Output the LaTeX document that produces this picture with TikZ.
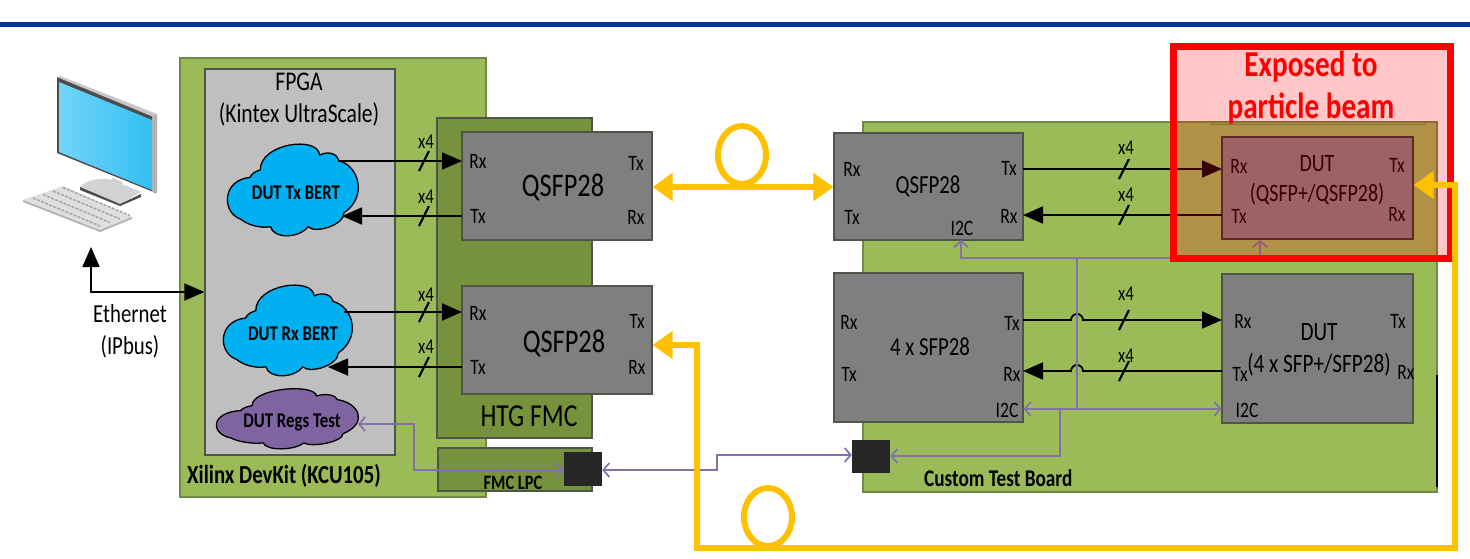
\documentclass[tikz,border=0pt]{standalone}
\usepackage{fontspec}
\setmainfont[FakeStretch=0.8]{Carlito}
\usetikzlibrary{arrows.meta,calc}
\definecolor{bar}{HTML}{0033A0}
\definecolor{board}{HTML}{9BBB59}
\definecolor{boardline}{HTML}{6F8A45}
\definecolor{fmc}{HTML}{76923C}
\definecolor{mod}{HTML}{7F7F7F}
\definecolor{modline}{HTML}{4F5548}
\definecolor{fpga}{HTML}{BFBFBF}
\definecolor{sky}{HTML}{00B0F0}
\definecolor{regs}{HTML}{8064A2}
\definecolor{i2c}{HTML}{8470A8}
\definecolor{fibre}{HTML}{FFC000}
\newcommand{\fsz}[1]{\fontsize{#1}{#1}\selectfont}
% x, y, width, height, fill
\newcommand{\bertcloud}[5]{%
  \begin{scope}[shift={(#1,#2)},x=#3pt/100,y=-#4pt/100]
    \draw[black,line width=1.3pt,fill=#5,line join=round]
      (25,29) .. controls (25,0) and (70,-8) .. (71,13)
      .. controls (78,8) and (85,12) .. (86,19)
      .. controls (102,25) and (108,58) .. (90,75)
      .. controls (90,88) and (68,98) .. (62,90)
      .. controls (55,103) and (35,103) .. (33,90)
      .. controls (25,92) and (15,88) .. (10,82)
      .. controls (-5,75) and (-5,40) .. (17,37)
      .. controls (18,33) and (22,30) .. (25,29) -- cycle;
  \end{scope}}
\tikzset{
  x=1pt,y=-1pt,
  panel/.style={draw=boardline,line width=1.2pt,fill=board},
  fmcpanel/.style={draw=modline,line width=1.2pt,fill=fmc},
  module/.style={draw=modline,line width=1.2pt,fill=mod},
  lane/.style={line width=1.8pt,draw=black,-{Triangle[length=20pt,width=17pt]}},
  lanecross/.style={line width=2.2pt,draw=black},
  fib/.style={line width=6pt,draw=fibre,line cap=butt,line join=miter},
  fibboth/.style={{Triangle[length=20pt,width=27pt]}-{Triangle[length=20pt,width=27pt]}},
  bus/.style={line width=1.7pt,draw=i2c},
  busend/.style={{Straight Barb[length=6pt,width=14pt]}-{Straight Barb[length=6pt,width=14pt]}},
  port/.style={font=\fsz{22},inner sep=0pt},
  xlab/.style={font=\fsz{21},inner sep=0pt},
  title/.style={font=\fontsize{27}{32}\selectfont,align=center,inner sep=0pt},
  boardtitle/.style={font=\bfseries\fsz{26},inner sep=0pt,anchor=west},
  big/.style={font=\fsz{33},inner sep=0pt},
  mid/.style={font=\fsz{26},align=center,inner sep=0pt},
  cloudtext/.style={font=\bfseries\fsz{21},inner sep=0pt},
}
\begin{document}
\begin{tikzpicture}
\useasboundingbox (0,0) rectangle (1470,558);
\fill[white] (0,0) rectangle (1470,558);
\fill[bar] (0,22) rectangle (1470,27);

% computer
\fill[black!70] (57,77) -- (156,117) -- (156,193) -- (57,153) -- cycle;
\fill[gray!45] (57,77) -- (60,76) -- (157,114) -- (156,118) -- cycle;
\fill[gray!60] (152,117) -- (157,114) -- (157,192) -- (152,192) -- cycle;
\shade[left color=sky!55!white,right color=sky!80!white] (59,82) -- (152,120) -- (152,190) -- (59,152) -- cycle;
\fill[gray!40] (112,178) -- (122,182) -- (122,192) -- (112,188) -- cycle;
\fill[gray!35] (80,187) .. controls (88,178) and (105,178) .. (112,180) -- (141,192) -- (120,204) -- cycle;
\fill[black!70] (80,187) -- (120,204) -- (141,194) -- (141,197) -- (120,206) -- (80,190) -- cycle;
\fill[gray!25] (23,200) -- (63,186) -- (132,217) -- (100,230) -- cycle;
\fill[gray!60] (23,200) -- (100,230) -- (132,217) -- (132,219) -- (100,232) -- (23,202) -- cycle;
\foreach \i in {0,...,3}{\draw[gray!70,line width=1.5pt,dash pattern=on 3pt off 1.4pt] ($(33,198)+(\i*10,-3.5*\i)$) -- ($(100,226)+(\i*10,-3.5*\i)$);}

% left board
\draw[panel] (180,58) rectangle (486,497);
\node[draw=modline,line width=1.2pt,fill=fpga,minimum width=190pt,minimum height=386pt,inner sep=0pt] (fpga) at (300,262) {};
\node[title] (fpgat) at (299,100) {FPGA\\(Kintex UltraScale)};
\node[fmcpanel,minimum width=155pt,minimum height=320pt,inner sep=0pt] (htg) at (514.5,278) {};
\node[fmcpanel,minimum width=154pt,minimum height=43pt,inner sep=0pt] (lpc) at (515,469.5) {};
\node[module,minimum width=190pt,minimum height=108pt,inner sep=0pt] (q1) at (557,186) {};
\node[module,minimum width=190pt,minimum height=108pt,inner sep=0pt] (q2) at (557,340) {};
\node[big] (q1t) at (563,187) {QSFP28};
\node[big] (q2t) at (564,343) {QSFP28};
\node[font=\fsz{32},inner sep=0pt] (htgt) at (529,416) {HTG FMC};
\node[font=\bfseries\fsz{20.5},inner sep=0pt] (lpct) at (513,483) {FMC LPC};
\node[boardtitle] (kit) at (187,476) {Xilinx DevKit (KCU105)};
\node[fill=black!85,minimum width=38pt,minimum height=34pt,inner sep=0pt] (sqa) at (583,469) {};

% clouds
\bertcloud{228}{143}{129}{93}{sky}
\node[cloudtext] (txl) at (296,193) {DUT Tx BERT};
\bertcloud{224}{284}{127}{92}{sky}
\node[cloudtext] (rxl) at (293,334) {DUT Rx BERT};
\bertcloud{217}{388}{140}{61}{regs}
\node[cloudtext] (rgl) at (292,422) {DUT Regs Test};

% right board
\draw[panel] (863,122) rectangle (1437,492);
\draw[black,line width=1.6pt] (1437,375) -- (1437,487);
\draw[green!45!black!70,line width=1pt] (1210,124) -- (1426,124);
\node[module,minimum width=189pt,minimum height=107pt,inner sep=0pt] (q3) at (928.5,186.5) {};
\node[module,minimum width=189pt,minimum height=149pt,inner sep=0pt] (s1) at (928.5,347.5) {};
\node[module,draw=black!80,minimum width=191pt,minimum height=102pt,inner sep=0pt] (d1) at (1317.5,188) {};
\node[module,minimum width=191pt,minimum height=149pt,inner sep=0pt] (d2) at (1317.5,348.5) {};
\node[fill=black!85,minimum width=38pt,minimum height=33pt,inner sep=0pt] (sqb) at (871,456) {};
\node[mid] (q3t) at (928,186) {QSFP28};
\node[mid] (s1t) at (930,347) {4 x SFP28};
\node[font=\fontsize{25}{30}\selectfont,align=center,inner sep=0pt] (d1t) at (1317,180) {DUT\\(QSFP+/QSFP28)};
\node[font=\fontsize{26.5}{32}\selectfont,align=center,inner sep=0pt] (d2t) at (1319,350) {DUT\\(4 x SFP+/SFP28)};
\node[boardtitle,font=\bfseries\fsz{24}] (ctb) at (924,478) {Custom Test Board};

% port labels
\foreach \t/\x/\y in {Rx/478/161,Tx/478/216,Tx/636/163,Rx/636/217,Rx/478/313,Tx/478/367,Tx/637/321,Rx/637/367,Rx/852/169,Tx/852/217,Tx/1009/168,Rx/1009/216,Rx/1239/166,Tx/1239/216,Tx/1397/165,Rx/1397/214,Rx/849/322,Tx/849/374,Tx/1012/323,Rx/1012/374,Rx/1243/321,Tx/1240/374,Tx/1398/321,Rx/1406/372}
  \node[port] at (\x,\y) {\t};
\node[port] at (962,228) {I2C};
\node[port] at (1007,410) {I2C};
\node[port] at (1247,410) {I2C};

% lanes
\coordinate (t1) at (338,161);\coordinate (t1p) at (462,161);
\coordinate (t2) at (342,216);\coordinate (t2p) at (462,216);
\coordinate (r1) at (344,312);\coordinate (r1p) at (462,312);
\coordinate (r2) at (328,367);\coordinate (r2p) at (462,367);
\draw[lane] (t1) -- (t1p);
\draw[lane] (t2p) -- (t2);
\draw[lane] (r1) -- (r1p);
\draw[lane] (r2p) -- (r2);
\coordinate (a1) at (1023,169);\coordinate (a1p) at (1222,169);
\coordinate (a2) at (1023,215);\coordinate (a2p) at (1222,215);
\draw[lane] (a1) -- (a1p);
\draw[lane] (a2p) -- (a2);
\coordinate (b1) at (1023,320);\coordinate (b1p) at (1222,320);
\coordinate (b2) at (1023,371);\coordinate (b2p) at (1222,371);
\draw[lane] (b1) -- (1071,320) arc (180:360:6) -- (b1p);
\draw[lane] (b2p) -- (1083,371) arc (0:-180:6) -- (b2);
\foreach \x/\y/\ly in {424/161/142,424/216/197,424/312/295,424/367/347,1124/169/148,1124/215/195,1124/320/294,1124/371/356}{
  \draw[lanecross] (\x-5,\y+10) -- (\x+5,\y-10);
  \node[xlab] at (\x+2,\ly) {x4};
}

% ethernet
\coordinate (pc) at (91,247);
\draw[lane,{Triangle[length=20pt,width=17pt]}-{Triangle[length=20pt,width=17pt]}] (pc) -- (91,292) -- (fpga.west |- 0,292);
\node[font=\fontsize{26}{32}\selectfont,align=center,inner sep=0pt] (eth) at (130,331) {Ethernet\\(IPbus)};

% I2C buses
\coordinate (rgp) at (358,424);
\draw[bus,busend] (rgp) -- (414,424) -- (414,470) -- (sqa.west |- 0,470);
\draw[bus,busend] (sqa.east |- 0,470) -- (717,470) -- (717,455) -- (sqb.west |- 0,455);
\draw[bus,busend] (s1.east |- 0,409) -- (d2.west |- 0,409);
\draw[bus,-{Straight Barb[length=6pt,width=14pt]}] (1060,409) -- (1060,456) -- (sqb.east |- 0,456);
\draw[bus] (1077,409) -- (1077,258);
\draw[bus,busend] (961,240) -- (961,258) -- (1260,258) -- (1260,240);

% exposed area
\fill[red,opacity=.22] (1173,46) rectangle (1450,258);
\draw[red,line width=7pt] (1173,46) rectangle (1450,258);
\node[font=\bfseries\fontsize{36.5}{42}\selectfont,align=center,text=red,inner sep=0pt] (exp) at (1311,88) {Exposed to\\particle beam};

% fibres
\draw[fib] (742,155) ellipse (24 and 29);
\draw[fib,fibboth] (q1.east |- 0,187) -- (q3.west |- 0,187);
\draw[fib] (768,517) ellipse (24 and 29);
\draw[fib,fibboth] (d1.east |- 0,185) -- (1455,185) -- (1455,548) -- (697,548) -- (697,345) -- (q2.east |- 0,345);
\end{tikzpicture}
\end{document}
